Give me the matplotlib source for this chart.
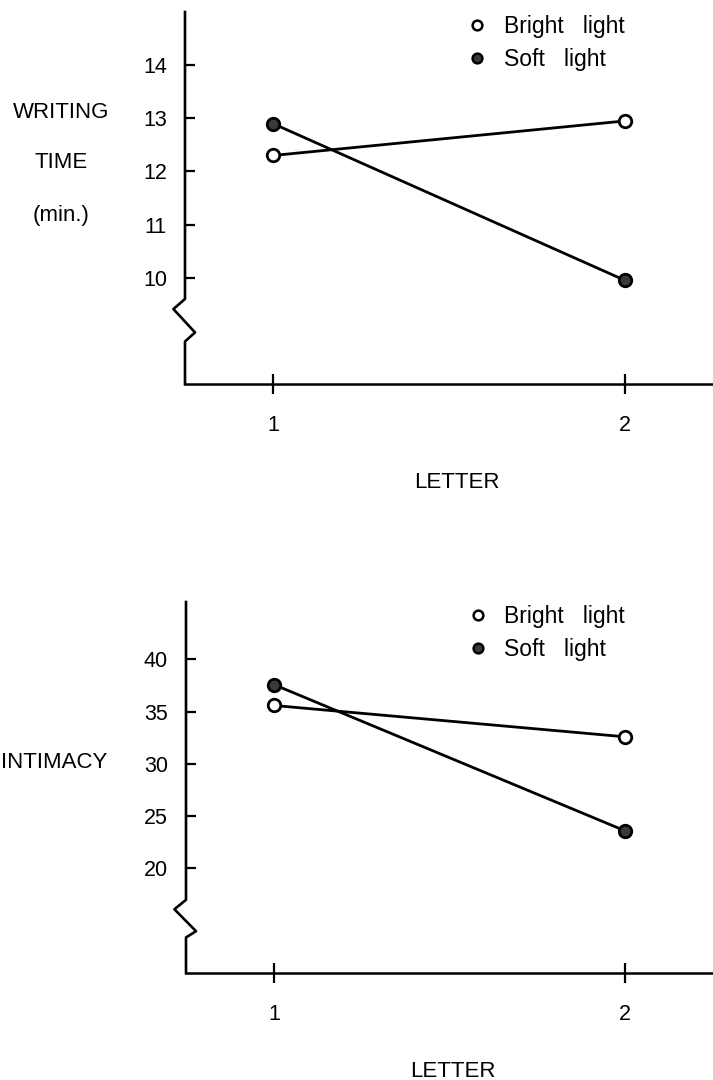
import matplotlib.pyplot as plt
from matplotlib.lines import Line2D

plt.rcParams['font.family'] = ['Liberation Sans', 'DejaVu Sans']

# data
letters = [1, 2]
time_bright = [12.3, 12.95]
time_soft = [12.9, 9.95]
int_bright = [35.6, 32.6]
int_soft = [37.6, 23.6]
time_ticks = [10, 11, 12, 13, 14]
int_ticks = [20, 25, 30, 35, 40]
legend_labels = ['Bright   light', 'Soft   light']

W, H = 713, 1080
fig = plt.figure(figsize=(W / 100, H / 100), dpi=100)

def setup(ax, ylim, yticks, brk):
    ax.set_xlim(0.75, 2.25)
    ax.set_ylim(*ylim)
    for s in ['top', 'right', 'left']:
        ax.spines[s].set_visible(False)
    ax.spines['bottom'].set_linewidth(1.8)
    ax.set_xticks(letters)
    ax.set_yticks(yticks)
    ax.tick_params(axis='x', direction='inout', length=14, width=1.6, pad=15, labelsize=15.5)
    ax.tick_params(axis='y', direction='in', length=7, width=1.6, pad=13, labelsize=15.5)
    # left axis with the break zigzag
    tr = ax.get_yaxis_transform()
    y0, y1, y2, y3 = brk
    ax.plot([0, 0, -0.022, 0.019, 0, 0], [ylim[1], y0, y1, y2, y3, ylim[0]],
            color='black', lw=1.9, transform=tr, clip_on=False)

def series(ax, bright, soft):
    ax.plot(letters, bright, '-o', color='black', lw=2, ms=9, mfc='white',
            mec='black', mew=2, clip_on=False)
    ax.plot(letters, soft, '-o', color='black', lw=2, ms=9, mfc='#3a3a3a',
            mec='black', mew=2, clip_on=False)
    handles = [Line2D([], [], ls='none', marker='o', ms=7, mfc='white', mec='black', mew=1.8),
               Line2D([], [], ls='none', marker='o', ms=7, mfc='#3a3a3a', mec='black', mew=1.8)]
    ax.legend(handles, legend_labels, loc='upper left', bbox_to_anchor=(0.536, 0.992),
              frameon=False, fontsize=16.5, handlelength=0.8, handletextpad=0.75,
              labelspacing=0.45, borderpad=0, borderaxespad=0)

ax1 = fig.add_axes([185 / W, 1 - 384 / H, 528 / W, 372 / H])
setup(ax1, (8, 15), time_ticks, (9.6, 9.41, 8.97, 8.8))
series(ax1, time_bright, time_soft)
ax1.set_xlabel('LETTER', fontsize=16, va='center')
ax1.xaxis.set_label_coords(0.515, -0.265)
fig.text(61 / W, 1 - 112 / H, 'WRITING', ha='center', va='center', fontsize=16)
fig.text(61 / W, 1 - 163 / H, 'TIME', ha='center', va='center', fontsize=16)
fig.text(61 / W, 1 - 215 / H, '(min.)', ha='center', va='center', fontsize=16)

ax2 = fig.add_axes([186 / W, 1 - 973 / H, 527 / W, 371 / H])
setup(ax2, (10, 45.5), int_ticks, (17.0, 16.1, 14.0, 13.4))
series(ax2, int_bright, int_soft)
ax2.set_xlabel('LETTER', fontsize=16, va='center')
ax2.xaxis.set_label_coords(0.507, -0.265)
fig.text(54 / W, 1 - 763 / H, 'INTIMACY', ha='center', va='center', fontsize=16)

fig.savefig('out.png', dpi=100)
